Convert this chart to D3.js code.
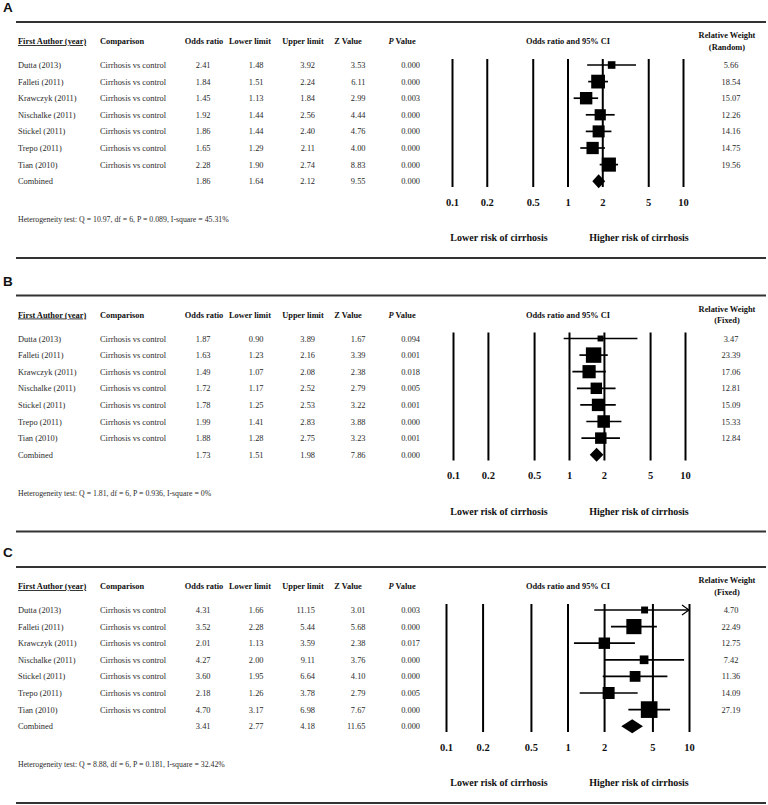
<!DOCTYPE html>
<html><head><meta charset="utf-8">
<script src="https://cdn.jsdelivr.net/npm/d3@7"></script>
<style>
html,body{margin:0;padding:0;background:#fff;}
svg{display:block;}
</style></head>
<body>
<svg id="chart" width="768" height="805"></svg>
<script>
// ---------- DATA ----------
const authors = ["Dutta (2013)","Falleti (2011)","Krawczyk (2011)","Nischalke (2011)","Stickel (2011)","Trepo (2011)","Tian (2010)","Combined"];
const comparison = "Cirrhosis vs control";
const tickValues = [0.1, 0.2, 0.5, 1, 2, 5, 10];

const orA = ["2.41","1.84","1.45","1.92","1.86","1.65","2.28","1.86"];
const loA = ["1.48","1.51","1.13","1.44","1.44","1.29","1.90","1.64"];
const hiA = ["3.92","2.24","1.84","2.56","2.40","2.11","2.74","2.12"];
const zA  = ["3.53","6.11","2.99","4.44","4.76","4.00","8.83","9.55"];
const pA  = ["0.000","0.000","0.003","0.000","0.000","0.000","0.000","0.000"];
const wA  = ["5.66","18.54","15.07","12.26","14.16","14.75","19.56"];
const hetA = "Heterogeneity test: Q = 10.97, df = 6, P = 0.089, I-square = 45.31%";

const orB = ["1.87","1.63","1.49","1.72","1.78","1.99","1.88","1.73"];
const loB = ["0.90","1.23","1.07","1.17","1.25","1.41","1.28","1.51"];
const hiB = ["3.89","2.16","2.08","2.52","2.53","2.83","2.75","1.98"];
const zB  = ["1.67","3.39","2.38","2.79","3.22","3.88","3.23","7.86"];
const pB  = ["0.094","0.001","0.018","0.005","0.001","0.000","0.001","0.000"];
const wB  = ["3.47","23.39","17.06","12.81","15.09","15.33","12.84"];
const hetB = "Heterogeneity test: Q = 1.81, df = 6, P = 0.936, I-square = 0%";

const orC = ["4.31","3.52","2.01","4.27","3.60","2.18","4.70","3.41"];
const loC = ["1.66","2.28","1.13","2.00","1.95","1.26","3.17","2.77"];
const hiC = ["11.15","5.44","3.59","9.11","6.64","3.78","6.98","4.18"];
const zC  = ["3.01","5.68","2.38","3.76","4.10","2.79","7.67","11.65"];
const pC  = ["0.003","0.000","0.017","0.000","0.000","0.005","0.000","0.000"];
const wC  = ["4.70","22.49","12.75","7.42","11.36","14.09","27.19"];
const hetC = "Heterogeneity test: Q = 8.88, df = 6, P = 0.181, I-square = 32.42%";

// ---------- LAYOUT ----------
const panels = [
  {label:"A", y0:22,  or:orA, lo:loA, hi:hiA, z:zA, p:pA, w:wA, model:"(Random)", het:hetA, range:[452,683]},
  {label:"B", y0:295.5, or:orB, lo:loB, hi:hiB, z:zB, p:pB, w:wB, model:"(Fixed)", het:hetB, range:[453,685]},
  {label:"C", y0:567, or:orC, lo:loC, hi:hiC, z:zC, p:pC, w:wC, model:"(Fixed)", het:hetC, range:[446,689]}
];

const serif = "'Liberation Serif','Times New Roman',serif";
const svg = d3.select("#chart");
svg.append("rect").attr("width",768).attr("height",805).attr("fill","#fff");

const sizeScale = d3.scaleSqrt().domain([0,30]).range([0,17.5]);
const rowStep = 16.6;

panels.forEach(P => {
  const g = svg.append("g").attr("transform", `translate(0,${P.y0})`);
  // panel label
  g.append("text").attr("x",3).attr("y",-10).text(P.label)
    .attr("font-family","'Liberation Sans',Arial,sans-serif").attr("font-weight","bold")
    .attr("font-size",13.5).attr("fill","#111");
  // rules
  g.append("line").attr("x1",16).attr("x2",766).attr("y1",0).attr("y2",0)
    .attr("stroke","#333").attr("stroke-width",2);
  g.append("line").attr("x1",16).attr("x2",766).attr("y1",236).attr("y2",236)
    .attr("stroke","#333").attr("stroke-width",2);

  // headers
  const hdr = (x, y, txt, anchor) => g.append("text").attr("x",x).attr("y",y)
    .attr("text-anchor",anchor||"middle").attr("font-family",serif)
    .attr("font-weight","bold").attr("font-size",8.4).attr("fill","#111").text(txt);
  hdr(18, 22, "First Author (year)", "start").attr("text-decoration","underline");
  hdr(100, 22, "Comparison", "start");
  hdr(204, 22, "Odds ratio");
  hdr(250, 22, "Lower limit");
  hdr(303, 22, "Upper limit");
  hdr(348, 22, "Z Value");
  const pv = hdr(402, 22, "");
  pv.append("tspan").attr("font-style","italic").text("P");
  pv.append("tspan").text(" Value");
  hdr(568, 22, "Odds ratio and 95% CI");
  hdr(727, 16, "Relative Weight");
  hdr(727, 27.5, P.model);

  // table rows
  const cell = (x, i, txt, anchor) => g.append("text").attr("x",x)
    .attr("y", 43 + i*rowStep + 3).attr("text-anchor",anchor||"end")
    .attr("font-family",serif).attr("font-size",8.4).attr("fill","#2a2a2a").text(txt);
  authors.forEach((a,i) => {
    cell(18, i, a, "start");
    if (i < 7) cell(100, i, comparison, "start");
    cell(210.5, i, P.or[i]);
    cell(263.5, i, P.lo[i]);
    cell(315, i, P.hi[i]);
    cell(365.5, i, P.z[i]);
    cell(420, i, P.p[i]);
    if (i < 7) cell(731, i, P.w[i], "middle");
  });

  // forest plot
  const x = d3.scaleLog().domain([0.1,10]).range(P.range);
  const top = 37, bottom = 165;
  const axis = d3.axisBottom(x).tickValues(tickValues)
    .tickSize(-(bottom-top)).tickPadding(11.5).tickFormat(d => String(d));
  const ag = g.append("g").attr("transform",`translate(0,${bottom})`).call(axis);
  ag.select(".domain").remove();
  ag.selectAll(".tick line").attr("stroke","#000").attr("stroke-width",2);
  ag.selectAll(".tick text").attr("font-family",serif).attr("font-weight","bold")
    .attr("font-size",10.5).attr("fill","#111");

  const fg = g.append("g");
  for (let i = 0; i < 7; i++) {
    const cy = 43 + i*rowStep;
    const lo = +P.lo[i], hi = +P.hi[i], or = +P.or[i];
    const hiClip = Math.min(hi, 10);
    fg.append("line").attr("x1",x(lo)).attr("x2",x(hiClip)).attr("y1",cy).attr("y2",cy)
      .attr("stroke","#000").attr("stroke-width",1.7);
    if (hi > 10) {
      const xe = x(10);
      fg.append("path").attr("d",`M${xe-7},${cy-5}L${xe},${cy}L${xe-7},${cy+5}`)
        .attr("fill","none").attr("stroke","#000").attr("stroke-width",1.2);
    }
    const s = sizeScale(+P.w[i]);
    fg.append("rect").attr("x",x(or)-s/2).attr("y",cy-s/2).attr("width",s).attr("height",s)
      .attr("fill","#000");
  }
  // combined diamond
  const cy = 43 + 7*rowStep;
  const dl = x(+P.lo[7]), dr = x(+P.hi[7]), dc = x(+P.or[7]);
  fg.append("path").attr("d",`M${dl},${cy}L${dc},${cy-7}L${dr},${cy}L${dc},${cy+7}Z`)
    .attr("fill","#000");

  // footer texts
  g.append("text").attr("x",18).attr("y",200).attr("font-family",serif)
    .attr("font-size",7.8).attr("fill","#2a2a2a").text(P.het);
  g.append("text").attr("x",499).attr("y",219).attr("text-anchor","middle")
    .attr("font-family",serif).attr("font-weight","bold").attr("font-size",10)
    .attr("fill","#111").text("Lower risk of cirrhosis");
  g.append("text").attr("x",639).attr("y",219).attr("text-anchor","middle")
    .attr("font-family",serif).attr("font-weight","bold").attr("font-size",10)
    .attr("fill","#111").text("Higher risk of cirrhosis");
});
</script>
</body></html>
